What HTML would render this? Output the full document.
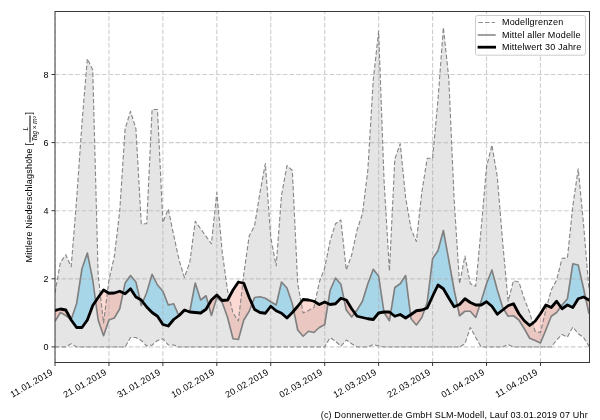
<!DOCTYPE html>
<html lang="de"><head><meta charset="utf-8"><title>Mittlere Niederschlagshöhe</title>
<style>
html,body{margin:0;padding:0;background:#fff;}
body{width:600px;height:420px;position:relative;overflow:hidden;font-family:"Liberation Sans",sans-serif;color:#000;}
.t{position:absolute;white-space:nowrap;font-size:9px;line-height:10px;color:#000;}
.xt{transform-origin:100% 0;transform:rotate(-30deg);text-align:right;letter-spacing:0.33px;}
.yt{text-align:right;width:20px;}
.lg{left:502.0px;letter-spacing:0.18px;}
#yl{left:0;top:0;transform-origin:0 0;}
#txt{position:absolute;left:0;top:0;width:600px;height:420px;will-change:transform;}
.fr{display:inline-block;position:relative;width:26.6px;height:1px;font-style:italic;font-size:6.4px;letter-spacing:0;margin:0 0.9px 0 0.8px;}
.fr span{position:absolute;left:0;width:100%;text-align:center;}
.fr .n{bottom:3.1px;line-height:6px;}
.fr .b{bottom:1.7px;height:0.7px;background:#000;}
.fr .d{top:0.1px;line-height:7px;}
</style></head><body>
<svg width="600" height="420" viewBox="0 0 600 420" style="display:block;position:absolute;left:0;top:0">
<defs>
<clipPath id="ax"><rect x="55.0" y="11.5" width="534.5" height="351.0"/></clipPath>
<clipPath id="above"><polygon points="55.00,310.50 60.39,309.00 65.79,310.00 71.18,320.00 76.58,327.50 81.97,327.50 87.36,320.00 92.76,305.50 98.15,297.50 103.55,290.00 108.94,293.25 114.33,293.00 119.73,291.25 125.12,293.75 130.52,288.75 135.91,297.00 141.30,300.00 146.70,307.00 152.09,312.50 157.49,316.25 162.88,324.50 168.27,326.00 173.67,319.50 179.06,315.50 184.46,310.00 189.85,312.00 195.24,312.50 200.64,313.00 206.03,309.25 211.43,300.00 216.82,295.00 222.21,300.50 227.61,300.00 233.00,290.00 238.40,282.00 243.79,283.25 249.18,297.50 254.58,309.50 259.97,312.50 265.37,313.25 270.76,306.25 276.15,310.75 281.55,313.25 286.94,318.00 292.34,312.50 297.73,306.25 303.12,299.50 308.52,300.00 313.91,301.25 319.31,304.50 324.70,302.00 330.09,304.50 335.49,303.75 340.88,298.25 346.28,300.00 351.67,308.75 357.06,316.25 362.46,317.50 367.85,318.75 373.25,319.50 378.64,313.00 384.03,312.00 389.43,312.00 394.82,316.25 400.22,314.50 405.61,318.00 411.00,314.50 416.40,310.75 421.79,310.00 427.19,308.00 432.58,296.25 437.97,285.00 443.37,288.75 448.76,298.00 454.16,306.75 459.55,304.50 464.94,298.75 470.34,302.50 475.73,305.00 481.13,305.00 486.52,301.75 491.91,306.25 497.31,314.25 502.70,310.00 508.10,305.75 513.49,303.75 518.88,313.75 524.28,320.75 529.67,325.50 535.07,321.25 540.46,313.75 545.85,305.00 551.25,307.50 556.64,301.25 562.04,308.75 567.43,305.00 572.82,307.50 578.22,298.75 583.61,297.00 589.01,300.00 589.01,0 55.00,0"/></clipPath>
<clipPath id="below"><polygon points="55.00,310.50 60.39,309.00 65.79,310.00 71.18,320.00 76.58,327.50 81.97,327.50 87.36,320.00 92.76,305.50 98.15,297.50 103.55,290.00 108.94,293.25 114.33,293.00 119.73,291.25 125.12,293.75 130.52,288.75 135.91,297.00 141.30,300.00 146.70,307.00 152.09,312.50 157.49,316.25 162.88,324.50 168.27,326.00 173.67,319.50 179.06,315.50 184.46,310.00 189.85,312.00 195.24,312.50 200.64,313.00 206.03,309.25 211.43,300.00 216.82,295.00 222.21,300.50 227.61,300.00 233.00,290.00 238.40,282.00 243.79,283.25 249.18,297.50 254.58,309.50 259.97,312.50 265.37,313.25 270.76,306.25 276.15,310.75 281.55,313.25 286.94,318.00 292.34,312.50 297.73,306.25 303.12,299.50 308.52,300.00 313.91,301.25 319.31,304.50 324.70,302.00 330.09,304.50 335.49,303.75 340.88,298.25 346.28,300.00 351.67,308.75 357.06,316.25 362.46,317.50 367.85,318.75 373.25,319.50 378.64,313.00 384.03,312.00 389.43,312.00 394.82,316.25 400.22,314.50 405.61,318.00 411.00,314.50 416.40,310.75 421.79,310.00 427.19,308.00 432.58,296.25 437.97,285.00 443.37,288.75 448.76,298.00 454.16,306.75 459.55,304.50 464.94,298.75 470.34,302.50 475.73,305.00 481.13,305.00 486.52,301.75 491.91,306.25 497.31,314.25 502.70,310.00 508.10,305.75 513.49,303.75 518.88,313.75 524.28,320.75 529.67,325.50 535.07,321.25 540.46,313.75 545.85,305.00 551.25,307.50 556.64,301.25 562.04,308.75 567.43,305.00 572.82,307.50 578.22,298.75 583.61,297.00 589.01,300.00 589.01,420 55.00,420"/></clipPath>
</defs>
<rect x="0" y="0" width="600" height="420" fill="#ffffff"/>
<g clip-path="url(#ax)">
<polygon points="55.00,293.00 60.39,262.50 65.79,254.70 71.18,266.70 76.58,200.00 81.97,123.00 87.36,58.75 92.76,70.00 98.15,275.00 103.55,323.00 108.94,280.00 114.33,256.50 119.73,211.00 125.12,128.75 130.52,111.25 135.91,128.75 141.30,223.75 146.70,223.75 152.09,109.50 157.49,109.50 162.88,222.50 168.27,209.00 173.67,235.00 179.06,260.00 184.46,277.50 189.85,262.00 195.24,221.25 200.64,228.75 206.03,236.25 211.43,243.75 216.82,192.50 222.21,252.00 227.61,291.00 233.00,313.00 238.40,321.00 243.79,274.00 249.18,236.00 254.58,225.75 259.97,192.50 265.37,163.50 270.76,237.50 276.15,266.00 281.55,195.00 286.94,165.50 292.34,170.50 297.73,284.00 303.12,313.00 308.52,310.50 313.91,307.50 319.31,282.00 324.70,268.00 330.09,241.00 335.49,223.75 340.88,220.00 346.28,270.00 351.67,255.00 357.06,230.00 362.46,213.75 367.85,170.00 373.25,80.00 378.64,31.25 384.03,180.00 389.43,271.00 394.82,159.00 400.22,143.75 405.61,197.50 411.00,228.75 416.40,241.50 421.79,192.50 427.19,158.30 432.58,158.30 437.97,100.00 443.37,27.50 448.76,78.00 454.16,200.00 459.55,283.75 464.94,256.00 470.34,283.75 475.73,286.25 481.13,229.00 486.52,167.00 491.91,145.00 497.31,177.00 502.70,242.50 508.10,301.25 513.49,280.75 518.88,282.00 524.28,298.75 529.67,312.50 535.07,331.25 540.46,332.50 545.85,310.00 551.25,290.00 556.64,280.00 562.04,258.30 567.43,258.00 572.82,206.00 578.22,168.75 583.61,225.00 589.01,290.00 589.01,346.25 583.61,337.50 578.22,333.75 572.82,327.00 567.43,337.00 562.04,334.50 556.64,340.00 551.25,347.00 545.85,347.00 540.46,347.00 535.07,347.00 529.67,347.00 524.28,347.00 518.88,347.00 513.49,347.00 508.10,344.50 502.70,347.00 497.31,347.00 491.91,347.00 486.52,347.00 481.13,347.00 475.73,337.50 470.34,327.50 464.94,343.75 459.55,347.00 454.16,347.00 448.76,347.00 443.37,347.00 437.97,347.00 432.58,347.00 427.19,347.00 421.79,347.00 416.40,347.00 411.00,347.00 405.61,347.00 400.22,347.00 394.82,347.00 389.43,347.00 384.03,347.00 378.64,346.00 373.25,344.50 367.85,347.00 362.46,347.00 357.06,347.00 351.67,343.75 346.28,340.00 340.88,346.25 335.49,341.25 330.09,337.50 324.70,347.00 319.31,347.00 313.91,347.00 308.52,347.00 303.12,347.00 297.73,347.00 292.34,347.00 286.94,347.00 281.55,347.00 276.15,347.00 270.76,347.00 265.37,347.00 259.97,347.00 254.58,347.00 249.18,347.00 243.79,347.00 238.40,347.00 233.00,347.00 227.61,347.00 222.21,347.00 216.82,347.00 211.43,347.00 206.03,347.00 200.64,347.00 195.24,347.00 189.85,347.00 184.46,347.00 179.06,347.00 173.67,345.00 168.27,345.00 162.88,338.75 157.49,340.50 152.09,345.00 146.70,346.00 141.30,340.50 135.91,337.50 130.52,337.50 125.12,347.00 119.73,347.00 114.33,347.00 108.94,347.00 103.55,347.00 98.15,347.00 92.76,347.00 87.36,347.00 81.97,347.00 76.58,347.00 71.18,343.75 65.79,347.00 60.39,347.00 55.00,347.00" fill="#d3d3d3" fill-opacity="0.6" stroke="none"/>
<g clip-path="url(#above)"><polygon points="55.00,321.25 60.39,312.50 65.79,315.50 71.18,319.50 76.58,303.75 81.97,268.75 87.36,253.00 92.76,280.00 98.15,320.00 103.55,335.75 108.94,320.00 114.33,318.00 119.73,308.75 125.12,283.00 130.52,275.50 135.91,282.00 141.30,305.50 146.70,292.50 152.09,274.25 157.49,285.00 162.88,291.25 168.27,305.00 173.67,303.75 179.06,316.25 184.46,311.25 189.85,311.25 195.24,283.00 200.64,300.00 206.03,295.75 211.43,315.50 216.82,297.50 222.21,302.50 227.61,317.50 233.00,338.75 238.40,339.50 243.79,320.00 249.18,311.25 254.58,297.50 259.97,296.75 265.37,298.25 270.76,301.75 276.15,305.00 281.55,282.00 286.94,288.00 292.34,303.75 297.73,330.00 303.12,336.25 308.52,331.25 313.91,332.50 319.31,327.50 324.70,324.50 330.09,290.50 335.49,278.00 340.88,284.25 346.28,310.00 351.67,317.00 357.06,310.00 362.46,301.25 367.85,283.75 373.25,269.25 378.64,276.25 384.03,312.50 389.43,320.75 394.82,287.50 400.22,283.75 405.61,275.50 411.00,318.75 416.40,325.00 421.79,317.50 427.19,302.50 432.58,258.75 437.97,250.75 443.37,230.50 448.76,260.00 454.16,290.00 459.55,315.75 464.94,311.25 470.34,311.25 475.73,317.50 481.13,301.25 486.52,283.75 491.91,270.00 497.31,290.00 502.70,307.50 508.10,316.25 513.49,315.75 518.88,320.00 524.28,328.75 529.67,338.25 535.07,340.50 540.46,343.00 545.85,330.00 551.25,316.25 556.64,312.50 562.04,305.00 567.43,298.75 572.82,263.75 578.22,265.00 583.61,288.75 589.01,313.75 589.01,300.00 583.61,297.00 578.22,298.75 572.82,307.50 567.43,305.00 562.04,308.75 556.64,301.25 551.25,307.50 545.85,305.00 540.46,313.75 535.07,321.25 529.67,325.50 524.28,320.75 518.88,313.75 513.49,303.75 508.10,305.75 502.70,310.00 497.31,314.25 491.91,306.25 486.52,301.75 481.13,305.00 475.73,305.00 470.34,302.50 464.94,298.75 459.55,304.50 454.16,306.75 448.76,298.00 443.37,288.75 437.97,285.00 432.58,296.25 427.19,308.00 421.79,310.00 416.40,310.75 411.00,314.50 405.61,318.00 400.22,314.50 394.82,316.25 389.43,312.00 384.03,312.00 378.64,313.00 373.25,319.50 367.85,318.75 362.46,317.50 357.06,316.25 351.67,308.75 346.28,300.00 340.88,298.25 335.49,303.75 330.09,304.50 324.70,302.00 319.31,304.50 313.91,301.25 308.52,300.00 303.12,299.50 297.73,306.25 292.34,312.50 286.94,318.00 281.55,313.25 276.15,310.75 270.76,306.25 265.37,313.25 259.97,312.50 254.58,309.50 249.18,297.50 243.79,283.25 238.40,282.00 233.00,290.00 227.61,300.00 222.21,300.50 216.82,295.00 211.43,300.00 206.03,309.25 200.64,313.00 195.24,312.50 189.85,312.00 184.46,310.00 179.06,315.50 173.67,319.50 168.27,326.00 162.88,324.50 157.49,316.25 152.09,312.50 146.70,307.00 141.30,300.00 135.91,297.00 130.52,288.75 125.12,293.75 119.73,291.25 114.33,293.00 108.94,293.25 103.55,290.00 98.15,297.50 92.76,305.50 87.36,320.00 81.97,327.50 76.58,327.50 71.18,320.00 65.79,310.00 60.39,309.00 55.00,310.50" fill="#87ceeb" fill-opacity="0.65" fill-rule="nonzero"/></g>
<g clip-path="url(#below)"><polygon points="55.00,321.25 60.39,312.50 65.79,315.50 71.18,319.50 76.58,303.75 81.97,268.75 87.36,253.00 92.76,280.00 98.15,320.00 103.55,335.75 108.94,320.00 114.33,318.00 119.73,308.75 125.12,283.00 130.52,275.50 135.91,282.00 141.30,305.50 146.70,292.50 152.09,274.25 157.49,285.00 162.88,291.25 168.27,305.00 173.67,303.75 179.06,316.25 184.46,311.25 189.85,311.25 195.24,283.00 200.64,300.00 206.03,295.75 211.43,315.50 216.82,297.50 222.21,302.50 227.61,317.50 233.00,338.75 238.40,339.50 243.79,320.00 249.18,311.25 254.58,297.50 259.97,296.75 265.37,298.25 270.76,301.75 276.15,305.00 281.55,282.00 286.94,288.00 292.34,303.75 297.73,330.00 303.12,336.25 308.52,331.25 313.91,332.50 319.31,327.50 324.70,324.50 330.09,290.50 335.49,278.00 340.88,284.25 346.28,310.00 351.67,317.00 357.06,310.00 362.46,301.25 367.85,283.75 373.25,269.25 378.64,276.25 384.03,312.50 389.43,320.75 394.82,287.50 400.22,283.75 405.61,275.50 411.00,318.75 416.40,325.00 421.79,317.50 427.19,302.50 432.58,258.75 437.97,250.75 443.37,230.50 448.76,260.00 454.16,290.00 459.55,315.75 464.94,311.25 470.34,311.25 475.73,317.50 481.13,301.25 486.52,283.75 491.91,270.00 497.31,290.00 502.70,307.50 508.10,316.25 513.49,315.75 518.88,320.00 524.28,328.75 529.67,338.25 535.07,340.50 540.46,343.00 545.85,330.00 551.25,316.25 556.64,312.50 562.04,305.00 567.43,298.75 572.82,263.75 578.22,265.00 583.61,288.75 589.01,313.75 589.01,300.00 583.61,297.00 578.22,298.75 572.82,307.50 567.43,305.00 562.04,308.75 556.64,301.25 551.25,307.50 545.85,305.00 540.46,313.75 535.07,321.25 529.67,325.50 524.28,320.75 518.88,313.75 513.49,303.75 508.10,305.75 502.70,310.00 497.31,314.25 491.91,306.25 486.52,301.75 481.13,305.00 475.73,305.00 470.34,302.50 464.94,298.75 459.55,304.50 454.16,306.75 448.76,298.00 443.37,288.75 437.97,285.00 432.58,296.25 427.19,308.00 421.79,310.00 416.40,310.75 411.00,314.50 405.61,318.00 400.22,314.50 394.82,316.25 389.43,312.00 384.03,312.00 378.64,313.00 373.25,319.50 367.85,318.75 362.46,317.50 357.06,316.25 351.67,308.75 346.28,300.00 340.88,298.25 335.49,303.75 330.09,304.50 324.70,302.00 319.31,304.50 313.91,301.25 308.52,300.00 303.12,299.50 297.73,306.25 292.34,312.50 286.94,318.00 281.55,313.25 276.15,310.75 270.76,306.25 265.37,313.25 259.97,312.50 254.58,309.50 249.18,297.50 243.79,283.25 238.40,282.00 233.00,290.00 227.61,300.00 222.21,300.50 216.82,295.00 211.43,300.00 206.03,309.25 200.64,313.00 195.24,312.50 189.85,312.00 184.46,310.00 179.06,315.50 173.67,319.50 168.27,326.00 162.88,324.50 157.49,316.25 152.09,312.50 146.70,307.00 141.30,300.00 135.91,297.00 130.52,288.75 125.12,293.75 119.73,291.25 114.33,293.00 108.94,293.25 103.55,290.00 98.15,297.50 92.76,305.50 87.36,320.00 81.97,327.50 76.58,327.50 71.18,320.00 65.79,310.00 60.39,309.00 55.00,310.50" fill="#fa8072" fill-opacity="0.3" fill-rule="nonzero"/></g>
<path d="M55.00,362.5V11.5M108.94,362.5V11.5M162.88,362.5V11.5M216.82,362.5V11.5M270.76,362.5V11.5M324.70,362.5V11.5M378.64,362.5V11.5M432.58,362.5V11.5M486.52,362.5V11.5M540.46,362.5V11.5M55.0,346.90H589.5M55.0,278.80H589.5M55.0,210.70H589.5M55.0,142.60H589.5M55.0,74.50H589.5" fill="none" stroke="#b0b0b0" stroke-opacity="0.62" stroke-width="1.15" stroke-dasharray="4.6 2.1"/>
<polyline points="55.00,293.00 60.39,262.50 65.79,254.70 71.18,266.70 76.58,200.00 81.97,123.00 87.36,58.75 92.76,70.00 98.15,275.00 103.55,323.00 108.94,280.00 114.33,256.50 119.73,211.00 125.12,128.75 130.52,111.25 135.91,128.75 141.30,223.75 146.70,223.75 152.09,109.50 157.49,109.50 162.88,222.50 168.27,209.00 173.67,235.00 179.06,260.00 184.46,277.50 189.85,262.00 195.24,221.25 200.64,228.75 206.03,236.25 211.43,243.75 216.82,192.50 222.21,252.00 227.61,291.00 233.00,313.00 238.40,321.00 243.79,274.00 249.18,236.00 254.58,225.75 259.97,192.50 265.37,163.50 270.76,237.50 276.15,266.00 281.55,195.00 286.94,165.50 292.34,170.50 297.73,284.00 303.12,313.00 308.52,310.50 313.91,307.50 319.31,282.00 324.70,268.00 330.09,241.00 335.49,223.75 340.88,220.00 346.28,270.00 351.67,255.00 357.06,230.00 362.46,213.75 367.85,170.00 373.25,80.00 378.64,31.25 384.03,180.00 389.43,271.00 394.82,159.00 400.22,143.75 405.61,197.50 411.00,228.75 416.40,241.50 421.79,192.50 427.19,158.30 432.58,158.30 437.97,100.00 443.37,27.50 448.76,78.00 454.16,200.00 459.55,283.75 464.94,256.00 470.34,283.75 475.73,286.25 481.13,229.00 486.52,167.00 491.91,145.00 497.31,177.00 502.70,242.50 508.10,301.25 513.49,280.75 518.88,282.00 524.28,298.75 529.67,312.50 535.07,331.25 540.46,332.50 545.85,310.00 551.25,290.00 556.64,280.00 562.04,258.30 567.43,258.00 572.82,206.00 578.22,168.75 583.61,225.00 589.01,290.00" fill="none" stroke="#868686" stroke-width="1.12" stroke-dasharray="4.4 2.2" stroke-linejoin="round"/>
<polyline points="55.00,347.00 60.39,347.00 65.79,347.00 71.18,343.75 76.58,347.00 81.97,347.00 87.36,347.00 92.76,347.00 98.15,347.00 103.55,347.00 108.94,347.00 114.33,347.00 119.73,347.00 125.12,347.00 130.52,337.50 135.91,337.50 141.30,340.50 146.70,346.00 152.09,345.00 157.49,340.50 162.88,338.75 168.27,345.00 173.67,345.00 179.06,347.00 184.46,347.00 189.85,347.00 195.24,347.00 200.64,347.00 206.03,347.00 211.43,347.00 216.82,347.00 222.21,347.00 227.61,347.00 233.00,347.00 238.40,347.00 243.79,347.00 249.18,347.00 254.58,347.00 259.97,347.00 265.37,347.00 270.76,347.00 276.15,347.00 281.55,347.00 286.94,347.00 292.34,347.00 297.73,347.00 303.12,347.00 308.52,347.00 313.91,347.00 319.31,347.00 324.70,347.00 330.09,337.50 335.49,341.25 340.88,346.25 346.28,340.00 351.67,343.75 357.06,347.00 362.46,347.00 367.85,347.00 373.25,344.50 378.64,346.00 384.03,347.00 389.43,347.00 394.82,347.00 400.22,347.00 405.61,347.00 411.00,347.00 416.40,347.00 421.79,347.00 427.19,347.00 432.58,347.00 437.97,347.00 443.37,347.00 448.76,347.00 454.16,347.00 459.55,347.00 464.94,343.75 470.34,327.50 475.73,337.50 481.13,347.00 486.52,347.00 491.91,347.00 497.31,347.00 502.70,347.00 508.10,344.50 513.49,347.00 518.88,347.00 524.28,347.00 529.67,347.00 535.07,347.00 540.46,347.00 545.85,347.00 551.25,347.00 556.64,340.00 562.04,334.50 567.43,337.00 572.82,327.00 578.22,333.75 583.61,337.50 589.01,346.25" fill="none" stroke="#868686" stroke-width="1.12" stroke-dasharray="4.4 2.2" stroke-linejoin="round"/>
<polyline points="55.00,321.25 60.39,312.50 65.79,315.50 71.18,319.50 76.58,303.75 81.97,268.75 87.36,253.00 92.76,280.00 98.15,320.00 103.55,335.75 108.94,320.00 114.33,318.00 119.73,308.75 125.12,283.00 130.52,275.50 135.91,282.00 141.30,305.50 146.70,292.50 152.09,274.25 157.49,285.00 162.88,291.25 168.27,305.00 173.67,303.75 179.06,316.25 184.46,311.25 189.85,311.25 195.24,283.00 200.64,300.00 206.03,295.75 211.43,315.50 216.82,297.50 222.21,302.50 227.61,317.50 233.00,338.75 238.40,339.50 243.79,320.00 249.18,311.25 254.58,297.50 259.97,296.75 265.37,298.25 270.76,301.75 276.15,305.00 281.55,282.00 286.94,288.00 292.34,303.75 297.73,330.00 303.12,336.25 308.52,331.25 313.91,332.50 319.31,327.50 324.70,324.50 330.09,290.50 335.49,278.00 340.88,284.25 346.28,310.00 351.67,317.00 357.06,310.00 362.46,301.25 367.85,283.75 373.25,269.25 378.64,276.25 384.03,312.50 389.43,320.75 394.82,287.50 400.22,283.75 405.61,275.50 411.00,318.75 416.40,325.00 421.79,317.50 427.19,302.50 432.58,258.75 437.97,250.75 443.37,230.50 448.76,260.00 454.16,290.00 459.55,315.75 464.94,311.25 470.34,311.25 475.73,317.50 481.13,301.25 486.52,283.75 491.91,270.00 497.31,290.00 502.70,307.50 508.10,316.25 513.49,315.75 518.88,320.00 524.28,328.75 529.67,338.25 535.07,340.50 540.46,343.00 545.85,330.00 551.25,316.25 556.64,312.50 562.04,305.00 567.43,298.75 572.82,263.75 578.22,265.00 583.61,288.75 589.01,313.75" fill="none" stroke="#808080" stroke-width="1.65" stroke-linejoin="round"/>
<polyline points="55.00,310.50 60.39,309.00 65.79,310.00 71.18,320.00 76.58,327.50 81.97,327.50 87.36,320.00 92.76,305.50 98.15,297.50 103.55,290.00 108.94,293.25 114.33,293.00 119.73,291.25 125.12,293.75 130.52,288.75 135.91,297.00 141.30,300.00 146.70,307.00 152.09,312.50 157.49,316.25 162.88,324.50 168.27,326.00 173.67,319.50 179.06,315.50 184.46,310.00 189.85,312.00 195.24,312.50 200.64,313.00 206.03,309.25 211.43,300.00 216.82,295.00 222.21,300.50 227.61,300.00 233.00,290.00 238.40,282.00 243.79,283.25 249.18,297.50 254.58,309.50 259.97,312.50 265.37,313.25 270.76,306.25 276.15,310.75 281.55,313.25 286.94,318.00 292.34,312.50 297.73,306.25 303.12,299.50 308.52,300.00 313.91,301.25 319.31,304.50 324.70,302.00 330.09,304.50 335.49,303.75 340.88,298.25 346.28,300.00 351.67,308.75 357.06,316.25 362.46,317.50 367.85,318.75 373.25,319.50 378.64,313.00 384.03,312.00 389.43,312.00 394.82,316.25 400.22,314.50 405.61,318.00 411.00,314.50 416.40,310.75 421.79,310.00 427.19,308.00 432.58,296.25 437.97,285.00 443.37,288.75 448.76,298.00 454.16,306.75 459.55,304.50 464.94,298.75 470.34,302.50 475.73,305.00 481.13,305.00 486.52,301.75 491.91,306.25 497.31,314.25 502.70,310.00 508.10,305.75 513.49,303.75 518.88,313.75 524.28,320.75 529.67,325.50 535.07,321.25 540.46,313.75 545.85,305.00 551.25,307.50 556.64,301.25 562.04,308.75 567.43,305.00 572.82,307.50 578.22,298.75 583.61,297.00 589.01,300.00" fill="none" stroke="#000000" stroke-width="2.8" stroke-linejoin="round" stroke-linecap="square"/>
</g>
<rect x="55.0" y="11.5" width="534.5" height="351.0" fill="none" stroke="#383838" stroke-width="1"/>
<path d="M55.00,362.5v3.5M108.94,362.5v3.5M162.88,362.5v3.5M216.82,362.5v3.5M270.76,362.5v3.5M324.70,362.5v3.5M378.64,362.5v3.5M432.58,362.5v3.5M486.52,362.5v3.5M540.46,362.5v3.5M55.0,346.90h-3.5M55.0,278.80h-3.5M55.0,210.70h-3.5M55.0,142.60h-3.5M55.0,74.50h-3.5" fill="none" stroke="#383838" stroke-width="1"/>
<rect x="475.5" y="15.5" width="110" height="39.7" rx="2.3" ry="2.3" fill="#ffffff" fill-opacity="0.8" stroke="#cccccc" stroke-width="1"/>
<path d="M478.4,22.5H495" fill="none" stroke="#808080" stroke-width="0.9" stroke-dasharray="4.4 2.2"/>
<path d="M478.4,35H495" fill="none" stroke="#808080" stroke-width="1.5" stroke-linecap="square"/>
<path d="M479,47.2H494.6" fill="none" stroke="#000" stroke-width="2.8" stroke-linecap="square"/>
</svg>
<div id="txt">
<div class="t xt" style="right:550.30px;top:367.3px">11.01.2019</div>
<div class="t xt" style="right:496.36px;top:367.3px">21.01.2019</div>
<div class="t xt" style="right:442.42px;top:367.3px">31.01.2019</div>
<div class="t xt" style="right:388.48px;top:367.3px">10.02.2019</div>
<div class="t xt" style="right:334.54px;top:367.3px">20.02.2019</div>
<div class="t xt" style="right:280.60px;top:367.3px">02.03.2019</div>
<div class="t xt" style="right:226.66px;top:367.3px">12.03.2019</div>
<div class="t xt" style="right:172.72px;top:367.3px">22.03.2019</div>
<div class="t xt" style="right:118.78px;top:367.3px">01.04.2019</div>
<div class="t xt" style="right:64.84px;top:367.3px">11.04.2019</div>
<div class="t yt" style="left:28.5px;top:342px">0</div>
<div class="t yt" style="left:28.5px;top:274px">2</div>
<div class="t yt" style="left:28.5px;top:206px">4</div>
<div class="t yt" style="left:28.5px;top:138px">6</div>
<div class="t yt" style="left:28.5px;top:70px">8</div>
<div class="t lg" style="top:17.3px">Modellgrenzen</div>
<div class="t lg" style="top:29.7px">Mittel aller Modelle</div>
<div class="t lg" style="top:42.1px">Mittelwert 30 Jahre</div>
<div class="t" id="cr" style="right:12.2px;top:409.5px;letter-spacing:0.16px">(c) Donnerwetter.de GmbH SLM-Modell, Lauf 03.01.2019 07 Uhr</div>
<div class="t" id="yl" style="transform:translate(23.5px,262.5px) rotate(-90deg);letter-spacing:0.2px">Mittlere Niederschlagshöhe [<span class="fr"><span class="n">L</span><span class="b"></span><span class="d">Tag × m²</span></span>]</div>
</div>
</body></html>
